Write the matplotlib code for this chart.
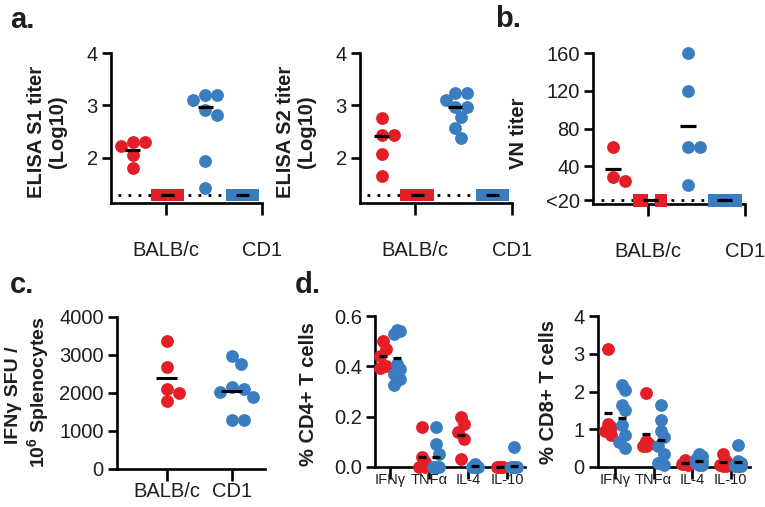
import matplotlib
matplotlib.use('Agg')
import matplotlib.pyplot as plt
import numpy as np

plt.rcParams['font.family'] = ['Liberation Sans', 'DejaVu Sans']
plt.rcParams['mathtext.fontset'] = 'custom'
plt.rcParams['mathtext.bf'] = 'Liberation Sans:bold'
plt.rcParams['mathtext.rm'] = 'Liberation Sans'

RED = '#E31E26'
BLUE = '#3A7DC1'
TXT = '#1e1e1e'
FS = 14.5

# ---------------- data ----------------
strains = ['BALB/c', 'CD1']

s1_balbc = [2.31, 2.31, 2.22, 2.06, 1.80]
s1_cd1 = [3.20, 3.20, 3.10, 2.91, 2.82, 1.95, 1.42]
s1_center = [2.15, 2.97]

s2_balbc = [2.76, 2.44, 2.44, 2.08, 1.66]
s2_cd1 = [3.23, 3.23, 3.10, 2.97, 2.97, 2.78, 2.57, 2.38]
s2_center = [2.41, 2.97]

elisa_limit = 1.30
elisa_ticks = [2, 3, 4]

vn_balbc = [60, 29, 24]
vn_cd1 = [160, 120, 60, 60, 20]
vn_center = [37, 83]
vn_limit = 4
vn_ticks = [4, 40, 80, 120, 160]
vn_ticklabels = ['<20', '40', '80', '120', '160']

sfu_balbc = [3380, 2690, 2100, 1990, 1800]
sfu_cd1 = [2975, 2755, 2150, 2100, 2035, 1900, 1290, 1290]
sfu_center = [2400, 2060]
sfu_ticks = [0, 1000, 2000, 3000, 4000]

cytokines = ['IFNγ', 'TNFα', 'IL-4', 'IL-10']
cd4_balbc = [[0.50, 0.47, 0.44, 0.40, 0.395],
             [0.16, 0.04, 0.02, 0.0, 0.0],
             [0.20, 0.17, 0.14, 0.11, 0.03],
             [0.0, 0.0, 0.0, 0.0, 0.0]]
cd4_cd1 = [[0.545, 0.54, 0.53, 0.41, 0.39, 0.37, 0.35, 0.325],
           [0.16, 0.09, 0.05, 0.0, 0.0, 0.0, 0.0, 0.0],
           [0.01, 0.0, 0.0, 0.0, 0.0, 0.0, 0.0, 0.0],
           [0.078, 0.0, 0.0, 0.0, 0.0, 0.0, 0.0, 0.0]]
cd4_center_balbc = [0.441, 0.041, 0.129, 0.0]
cd4_center_cd1 = [0.434, 0.038, 0.005, 0.005]
cd4_ticks = [0.0, 0.2, 0.4, 0.6]

cd8_balbc = [[3.12, 1.15, 1.05, 0.95, 0.85],
             [1.95, 0.70, 0.60, 0.55, 0.55],
             [0.18, 0.10, 0.08, 0.07, 0.05],
             [0.35, 0.15, 0.05, 0.03, 0.02]]
cd8_cd1 = [[2.17, 2.04, 1.64, 1.51, 1.11, 0.85, 0.67, 0.50],
           [1.65, 1.25, 0.95, 0.80, 0.55, 0.35, 0.10, 0.05],
           [0.35, 0.30, 0.20, 0.15, 0.10, 0.10, 0.05, 0.05],
           [0.57, 0.15, 0.10, 0.05, 0.03, 0.02, 0.02, 0.02]]
cd8_center_balbc = [1.42, 0.87, 0.10, 0.12]
cd8_center_cd1 = [1.29, 0.715, 0.17, 0.12]
cd8_ticks = [0, 1, 2, 3, 4]

# ---------------- figure ----------------
W, H = 765, 507
fig = plt.figure(figsize=(W / 100, H / 100), dpi=100)


def add_ax(l, r, t, b):
    ax = fig.add_axes([l / W, 1 - b / H, (r - l) / W, (b - t) / H])
    for s in ['top', 'right']:
        ax.spines[s].set_visible(False)
    for s in ['left', 'bottom']:
        ax.spines[s].set_linewidth(1.9)
        ax.spines[s].set_color('black')
    ax.tick_params(axis='y', length=6.5, width=1.9, pad=3, labelsize=FS, labelcolor=TXT)
    ax.tick_params(axis='x', length=8.5, width=1.9, labelsize=FS, labelcolor=TXT)
    ax.patch.set_alpha(0)
    return ax


def px_scale(ax):
    p0 = ax.transData.transform((0, 0))
    p1 = ax.transData.transform((1, 1))
    return p1[0] - p0[0], p1[1] - p0[1]


def swarm(vals, ppy, diam=12.0, max_off=40.0):
    vals = np.asarray(vals, float)
    order = np.argsort(-vals, kind='stable')
    step = diam / 4
    cands = [0.0]
    for k in range(1, 60):
        cands += [k * step, -k * step]
    cands = [c for c in cands if abs(c) <= max_off]
    placed = []
    offs = np.zeros(len(vals))
    for i in order:
        y = vals[i] * ppy
        best = None
        for c in cands:
            if all((c - px) ** 2 + (y - py) ** 2 >= (diam * 0.92) ** 2 for px, py in placed):
                best = c
                break
        if best is None:
            scores = [min([(c - px) ** 2 + (y - py) ** 2 for px, py in placed] + [1e9]) for c in cands]
            best = cands[int(np.argmax(scores))]
        placed.append((best, y))
        offs[i] = best
    return offs


def dots(ax, x, vals, color, diam=12.0, max_off=40.0):
    ppx, ppy = px_scale(ax)
    offs = swarm(vals, ppy, diam, max_off) / ppx
    ax.scatter(np.full(len(vals), x) + offs, vals, s=85, color=color,
               linewidths=0, zorder=3, clip_on=False)


def cline(ax, x, y, wpx, lw=2.3):
    ppx, _ = px_scale(ax)
    w = wpx / ppx
    ax.plot([x - w / 2, x + w / 2], [y, y], color='black', lw=lw,
            solid_capstyle='butt', zorder=5, clip_on=False)


def ctrl_bar(ax, x, width, limit, hpx, color):
    _, ppy = px_scale(ax)
    h = hpx / ppy
    ax.bar([x], [h], bottom=limit - h / 2, width=width, color=color,
           linewidth=0, zorder=4, clip_on=False)


def xlabels(ax, ticks, labels, pad):
    ax.set_xticks(ticks)
    ax.set_xticklabels(labels)
    ax.tick_params(axis='x', pad=pad)


# ---- panel a ----
def elisa_panel(l, r, bal, cd1, center):
    ax = add_ax(l, r, 53, 203)
    ax.set_xlim(0, 4)
    ax.set_ylim(1.14, 4)
    ax.set_yticks(elisa_ticks)
    ax.set_yticklabels([str(t) for t in elisa_ticks])
    ax.plot([0.18, 3.4], [elisa_limit, elisa_limit], color='black', lw=2.0,
            ls=(0, (1, 2.6)), zorder=2)
    dots(ax, 0.57, bal, RED)
    dots(ax, 2.5, cd1, BLUE)
    ctrl_bar(ax, 1.5, 0.88, elisa_limit, 12, RED)
    ctrl_bar(ax, 3.48, 0.88, elisa_limit, 12, BLUE)
    cline(ax, 0.57, center[0], 15)
    cline(ax, 2.5, center[1], 15)
    cline(ax, 1.5, elisa_limit, 13)
    cline(ax, 3.48, elisa_limit, 13)
    xlabels(ax, [1.45, 4.0], strains, 19)
    return ax


ax_a1 = elisa_panel(111, 262, s1_balbc, s1_cd1, s1_center)
ax_a2 = elisa_panel(360, 512, s2_balbc, s2_cd1, s2_center)

# ---- panel b ----
ax_b = add_ax(593, 745, 53, 204)
ax_b.set_xlim(0, 4)
ax_b.set_ylim(0, 160)
ax_b.set_yticks(vn_ticks)
ax_b.set_yticklabels(vn_ticklabels)
ax_b.plot([0.2, 3.4], [vn_limit, vn_limit], color='black', lw=2.0,
          ls=(0, (1, 2.6)), zorder=2)
dots(ax_b, 0.53, vn_balbc, RED)
dots(ax_b, 2.5, vn_cd1, BLUE)
ctrl_bar(ax_b, 1.25, 0.40, vn_limit, 13, RED)
ctrl_bar(ax_b, 1.80, 0.32, vn_limit, 13, RED)
ctrl_bar(ax_b, 3.47, 0.90, vn_limit, 13, BLUE)
cline(ax_b, 0.53, vn_center[0], 16)
cline(ax_b, 2.5, vn_center[1], 16)
cline(ax_b, 1.5, vn_limit, 15)
cline(ax_b, 3.47, vn_limit, 15)
xlabels(ax_b, [1.45, 4.0], strains, 19)

# ---- panel c ----
ax_c = add_ax(117, 265, 317, 469)
ax_c.set_xlim(-0.77, 1.51)
ax_c.set_ylim(0, 4000)
ax_c.set_yticks(sfu_ticks)
ax_c.set_yticklabels([str(t) for t in sfu_ticks])
dots(ax_c, 0, sfu_balbc, RED)
dots(ax_c, 1, sfu_cd1, BLUE)
cline(ax_c, 0, sfu_center[0], 21, 2.2)
cline(ax_c, 1, sfu_center[1], 21, 2.2)
xlabels(ax_c, [0, 1], strains, 1)


# ---- panel d ----
def cyto_panel(l, r, bal, cd1, cb, cc, ticks, ylim, xl, tickfmt):
    ax = add_ax(l, r, 316, 467)
    ax.set_xlim(*xl)
    ax.set_ylim(*ylim)
    ax.set_yticks(ticks)
    ax.set_yticklabels([tickfmt(t) for t in ticks])
    for i in range(len(cytokines)):
        dots(ax, i - 0.19, bal[i], RED, max_off=3)
        dots(ax, i + 0.19, cd1[i], BLUE, max_off=3)
        cline(ax, i - 0.19, cb[i], 8, 2.3)
        cline(ax, i + 0.19, cc[i], 8, 2.3)
    ax.set_xticks(range(len(cytokines)))
    ax.set_xticklabels(cytokines)
    ax.tick_params(axis='x', labelsize=10.5, pad=-4)
    return ax


ax_d1 = cyto_panel(375, 525, cd4_balbc, cd4_cd1, cd4_center_balbc, cd4_center_cd1,
                   cd4_ticks, (0, 0.6), (-0.385, 3.46), lambda t: f'{t:.1f}')
ax_d2 = cyto_panel(598, 750, cd8_balbc, cd8_cd1, cd8_center_balbc, cd8_center_cd1,
                   cd8_ticks, (0, 4), (-0.44, 3.5), lambda t: f'{t:d}')


# ---- texts ----
def ftext(x, y, s, **kw):
    fig.text(x / W, 1 - y / H, s, **kw)


lab = dict(rotation=90, ha='center', va='center', fontsize=FS, fontweight='bold',
           color=TXT, multialignment='center', linespacing=1.15)
ftext(47, 132, 'ELISA S1 titer\n(Log10)', **lab)
ftext(296, 132, 'ELISA S2 titer\n(Log10)', **lab)
ftext(519, 133, 'VN titer', **lab)
labc = dict(lab, fontsize=14)
ftext(14, 395, 'IFNγ SFU /', **labc)
ftext(38, 392, r'$\mathbf{10^{6}}$ Splenocytes', **labc)
ftext(308, 394, '% CD4+ T cells', **lab)
ftext(548, 392, '% CD8+ T cells', **lab)

pl = dict(fontsize=21, fontweight='bold', color=TXT, ha='left', va='baseline')
ftext(10, 28, 'a.', **pl)
ftext(495, 27, 'b.', **pl)
ftext(10, 293, 'c.', **pl)
ftext(295, 293, 'd.', **pl)

fig.savefig('out.png', dpi=100)
